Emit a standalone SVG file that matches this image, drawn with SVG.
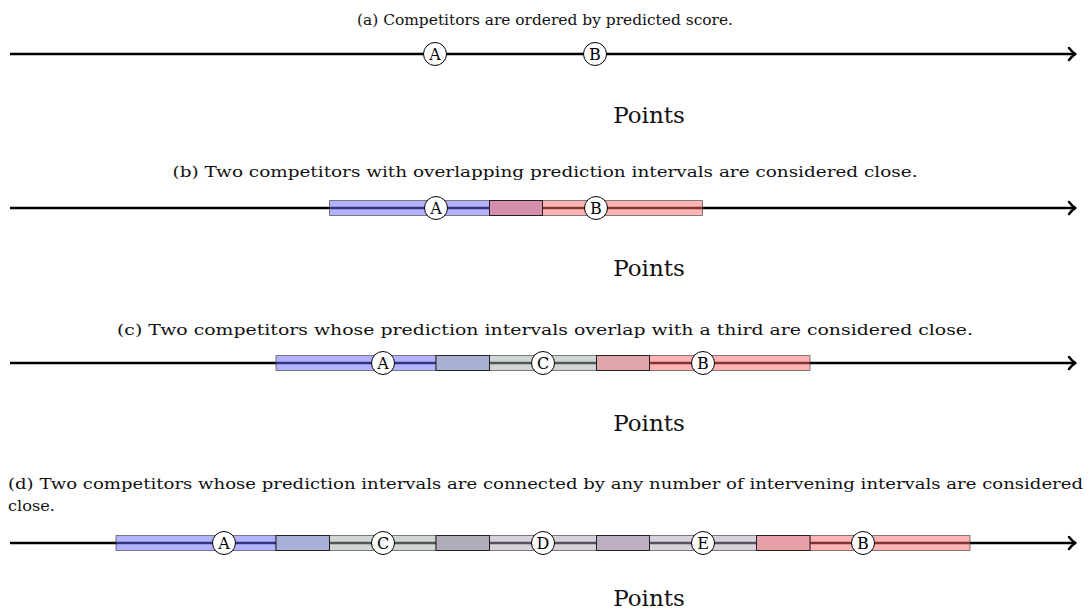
<svg xmlns="http://www.w3.org/2000/svg" width="1091" height="613" viewBox="0 0 1091 613">
<defs>
<style>
.t{font-family:"DejaVu Serif","Liberation Serif",serif;font-size:15px;fill:#111}
.pts{font-family:"DejaVu Serif","Liberation Serif",serif;font-size:23px;fill:#111;text-anchor:middle}
.axis{stroke:#000;stroke-width:2.5;fill:none}
.head{stroke:#000;stroke-width:2.5;fill:none;stroke-linecap:round;stroke-linejoin:round}
.iv{stroke:#333;stroke-opacity:0.6;stroke-width:1}
.ov{stroke:#222;stroke-width:1}
.blue{fill:rgb(103,103,255);fill-opacity:0.5}
.red{fill:rgb(255,103,103);fill-opacity:0.5}
.gray{fill:rgb(161,173,173);fill-opacity:0.5}
.lav{fill:rgb(177,161,181);fill-opacity:0.5}
.node circle{fill:#fff;stroke:#000;stroke-width:1}
.node text{font-family:"DejaVu Serif","Liberation Serif",serif;font-size:16px;text-anchor:middle;fill:#000}
</style>
</defs>

<!-- Titles -->
<text class="t" x="545" y="25" text-anchor="middle" textLength="376" lengthAdjust="spacingAndGlyphs">(a) Competitors are ordered by predicted score.</text>
<text class="t" x="545" y="177" text-anchor="middle" textLength="745" lengthAdjust="spacingAndGlyphs">(b) Two competitors with overlapping prediction intervals are considered close.</text>
<text class="t" x="545" y="335" text-anchor="middle" textLength="856" lengthAdjust="spacingAndGlyphs">(c) Two competitors whose prediction intervals overlap with a third are considered close.</text>
<text class="t" x="8" y="489" textLength="1075" lengthAdjust="spacingAndGlyphs">(d) Two competitors whose prediction intervals are connected by any number of intervening intervals are considered</text>
<text class="t" x="8" y="511" textLength="47" lengthAdjust="spacingAndGlyphs">close.</text>

<!-- Points labels -->
<text class="pts" x="649" y="123">Points</text>
<text class="pts" x="649" y="276">Points</text>
<text class="pts" x="649" y="431">Points</text>
<text class="pts" x="649" y="606">Points</text>

<!-- Axes (connectors) -->
<g id="connectors">
<line class="axis" x1="10" y1="54" x2="1074" y2="54"/>
<path class="head" d="M1069,48 Q1072,52 1075.5,54 Q1072,56 1069,60"/>
<line class="axis" x1="10" y1="208" x2="1074" y2="208"/>
<path class="head" d="M1069,202 Q1072,206 1075.5,208 Q1072,210 1069,214"/>
<line class="axis" x1="10" y1="363" x2="1074" y2="363"/>
<path class="head" d="M1069,357 Q1072,361 1075.5,363 Q1072,365 1069,369"/>
<line class="axis" x1="10" y1="543" x2="1074" y2="543"/>
<path class="head" d="M1069,537 Q1072,541 1075.5,543 Q1072,545 1069,549"/>
</g>

<!-- Row (b) intervals -->
<g id="intervals-b">
<rect class="iv blue" x="329.5" y="200.5" width="213" height="15"/>
<rect class="iv red" x="489.5" y="200.5" width="213" height="15"/>
<rect class="ov" x="489.5" y="200.5" width="53" height="15" fill="#d58fae"/>
</g>

<!-- Row (c) intervals -->
<g id="intervals-c">
<rect class="iv blue" x="276" y="355.5" width="213.5" height="15"/>
<rect class="iv gray" x="436" y="355.5" width="213.5" height="15"/>
<rect class="iv red" x="596.5" y="355.5" width="213.5" height="15"/>
<rect class="ov" x="436" y="355.5" width="53.5" height="15" fill="#a9b0d4"/>
<rect class="ov" x="596.5" y="355.5" width="53" height="15" fill="#e0a6aa"/>
</g>

<!-- Row (d) intervals -->
<g id="intervals-d">
<rect class="iv blue" x="116" y="535.5" width="213.5" height="15"/>
<rect class="iv gray" x="276" y="535.5" width="213.5" height="15"/>
<rect class="iv lav" x="436" y="535.5" width="213.5" height="15"/>
<rect class="iv lav" x="596.5" y="535.5" width="213.5" height="15"/>
<rect class="iv red" x="756.5" y="535.5" width="213.5" height="15"/>
<rect class="ov" x="276" y="535.5" width="53.5" height="15" fill="#a8b0d8"/>
<rect class="ov" x="436" y="535.5" width="53.5" height="15" fill="#b0acb8"/>
<rect class="ov" x="596.5" y="535.5" width="53" height="15" fill="#bcb0c0"/>
<rect class="ov" x="756.5" y="535.5" width="53.5" height="15" fill="#e8a0a8"/>
</g>

<!-- Nodes row (a) -->
<g id="a-A" class="node"><circle cx="435" cy="54" r="11.5"/><text x="435" y="60">A</text></g>
<g id="a-B" class="node"><circle cx="595" cy="54" r="11.5"/><text x="595" y="60">B</text></g>
<!-- Nodes row (b) -->
<g id="b-A" class="node"><circle cx="436" cy="208" r="11.5"/><text x="436" y="214">A</text></g>
<g id="b-B" class="node"><circle cx="596" cy="208" r="11.5"/><text x="596" y="214">B</text></g>
<!-- Nodes row (c) -->
<g id="c-A" class="node"><circle cx="383" cy="363" r="11.5"/><text x="383" y="369">A</text></g>
<g id="c-C" class="node"><circle cx="543" cy="363" r="11.5"/><text x="543" y="369">C</text></g>
<g id="c-B" class="node"><circle cx="703" cy="363" r="11.5"/><text x="703" y="369">B</text></g>
<!-- Nodes row (d) -->
<g id="d-A" class="node"><circle cx="224" cy="543" r="11.5"/><text x="224" y="549">A</text></g>
<g id="d-C" class="node"><circle cx="383" cy="543" r="11.5"/><text x="383" y="549">C</text></g>
<g id="d-D" class="node"><circle cx="543" cy="543" r="11.5"/><text x="543" y="549">D</text></g>
<g id="d-E" class="node"><circle cx="703" cy="543" r="11.5"/><text x="703" y="549">E</text></g>
<g id="d-B" class="node"><circle cx="863" cy="543" r="11.5"/><text x="863" y="549">B</text></g>
</svg>
